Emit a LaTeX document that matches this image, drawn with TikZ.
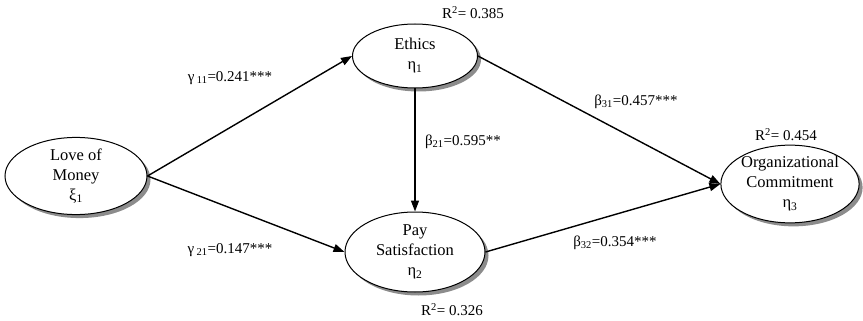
\documentclass[tikz,border=0pt]{standalone}
\usepackage{fontspec}
\setmainfont{Liberation Serif}
\usetikzlibrary{shapes.geometric, shadows, arrows.meta}

\begin{document}
\begin{tikzpicture}[x=1pt, y=-1pt,
    font=\fontsize{15}{19}\selectfont,
    latent/.style={ellipse, draw, line width=1pt, fill=white, align=center, inner sep=0pt,
        font=\fontsize{16.5}{20}\selectfont,
        drop shadow={shadow xshift=3.5pt, shadow yshift=-3.5pt, fill=black!45, opacity=1}},
    path/.style={-{Triangle[length=11pt, width=8pt]}, line width=1.4pt},
    coef/.style={inner sep=1pt}]
    \useasboundingbox (0, 0) rectangle (863, 321);

    %% latent variables
    \node[latent, minimum width=142pt, minimum height=76pt] (money) at (76, 176)
        {Love of\\Money\\ξ\textsubscript{1}};
    \node[latent, minimum width=125pt, minimum height=64pt] (ethics) at (415, 56)
        {Ethics\\η\textsubscript{1}};
    \node[latent, minimum width=140pt, minimum height=80pt] (pay) at (415, 252)
        {Pay\\Satisfaction\\η\textsubscript{2}};
    \node[latent, minimum width=136pt, minimum height=70pt] (commit) at (790, 184)
        {Organizational\\Commitment\\η\textsubscript{3}};

    %% explained variance
    \node (r1) at (473, 13) {R\textsuperscript{2}= 0.385};
    \node (r2) at (452, 310) {R\textsuperscript{2}= 0.326};
    \node (r3) at (786, 135) {R\textsuperscript{2}= 0.454};

    %% paths
    \draw[path] (money.east) -- (ethics.west);
    \draw[path] (money.east) -- (pay.west);
    \draw[path] (ethics.south) -- (pay.north);
    \draw[path] (ethics.east) -- (commit.west);
    \draw[path] (pay.east) -- (commit.west);

    %% coefficients
    \node[coef] (g11) at (230, 78) {γ\,\textsubscript{11}=0.241***};
    \node[coef] (g21) at (230, 250) {γ\,\textsubscript{21}=0.147***};
    \node[coef] (b21) at (463, 142) {β\textsubscript{21}=0.595**};
    \node[coef] (b31) at (636, 102) {β\textsubscript{31}=0.457***};
    \node[coef] (b32) at (615, 243) {β\textsubscript{32}=0.354***};
\end{tikzpicture}
\end{document}
